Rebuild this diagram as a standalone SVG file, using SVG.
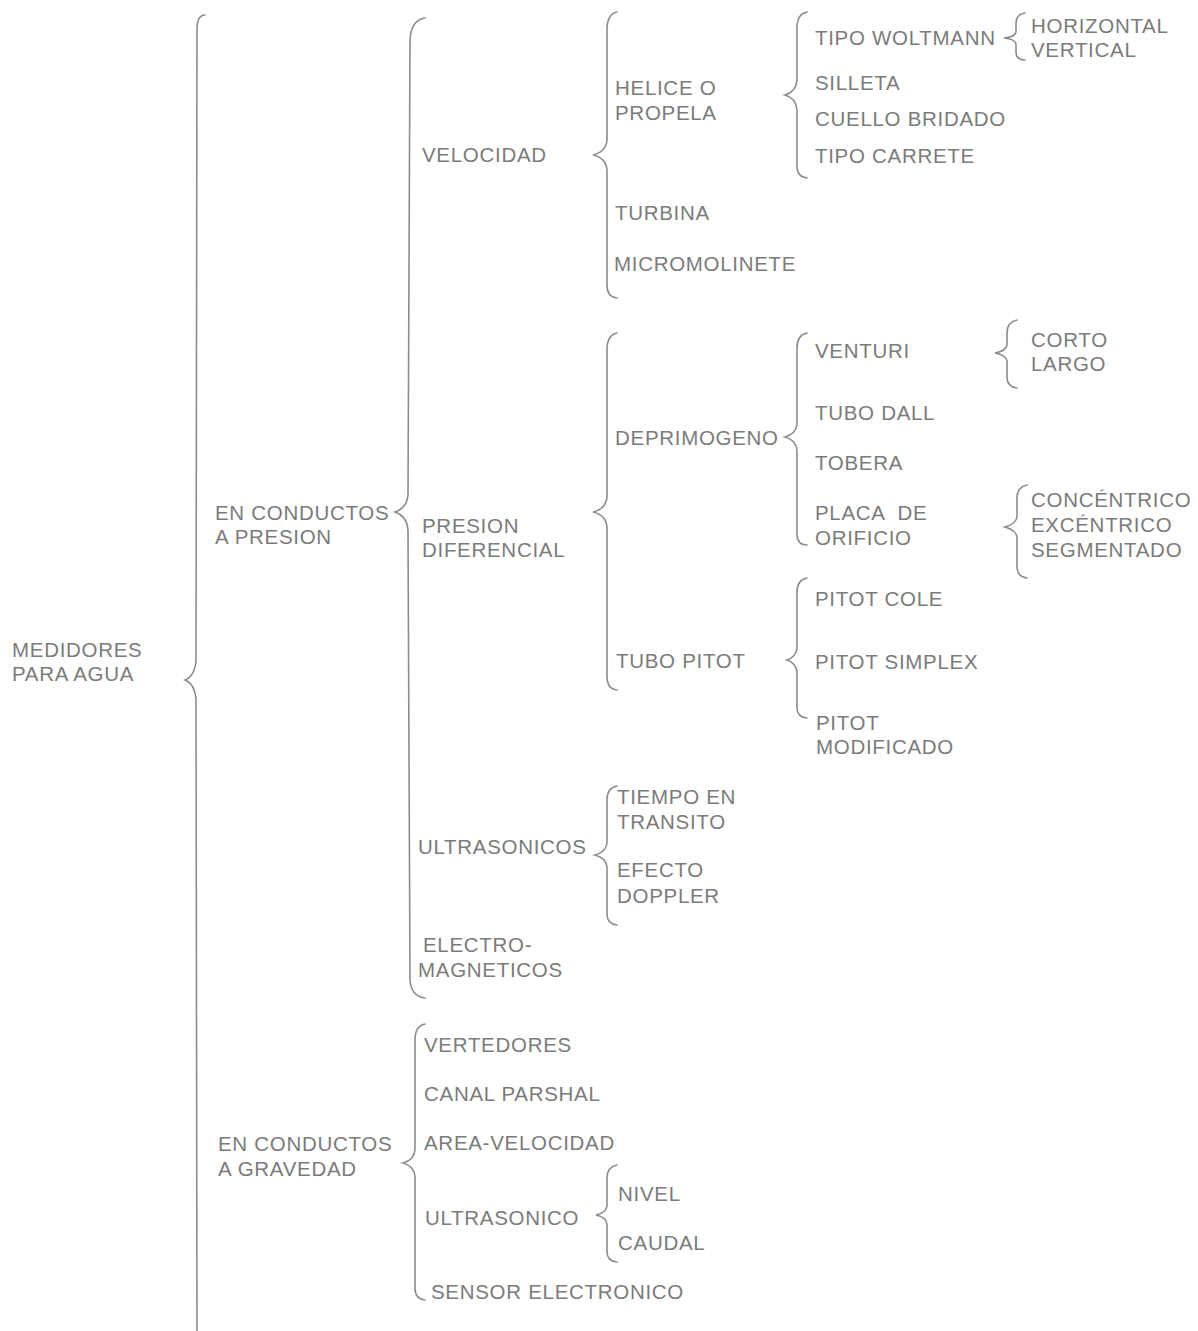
<svg xmlns="http://www.w3.org/2000/svg" width="1198" height="1331" viewBox="0 0 1198 1331">
<style>
text{font-family:"Liberation Sans",Arial,sans-serif;font-size:20.5px;fill:#7b7b7b;letter-spacing:0.7px}
.b{fill:none;stroke:#8c8c8c;stroke-width:1.6;stroke-linecap:round}
</style>
<rect width="1198" height="1331" fill="#fff"/>
<g id="connectors">
<path class="b" d="M205,15 Q197,15 197,30 L196,660 Q195,676 185,680 Q195,684 196,700 L197,1331"/>
<path class="b" d="M425,18 Q411,20 410,40 L408,495 Q407,508 395,512 Q407,516 408,530 L410,980 Q411,996 425,998"/>
<path class="b" d="M617,12 Q607,14 607,30 L607,140 Q606,152 593,155 Q606,158 607,170 L607,285 Q607,297 617,298"/>
<path class="b" d="M807,12 Q797,14 797,28 L797,80 Q796,92 785,95 Q796,98 797,110 L797,166 Q797,177 807,178"/>
<path class="b" d="M1025,13 Q1016,14 1016,24 L1016,32 Q1015,37 1004,38 Q1015,39 1016,44 L1016,52 Q1016,60 1025,60"/>
<path class="b" d="M617,333 Q607,335 607,350 L607,497 Q606,509 593,512 Q606,515 607,527 L607,676 Q607,689 617,690"/>
<path class="b" d="M807,333 Q797,335 797,348 L797,424 Q796,434 785,437 Q796,440 797,450 L797,534 Q797,545 807,545"/>
<path class="b" d="M1017,320 Q1007,322 1007,333 L1007,345 Q1006,351 995,353 Q1006,355 1007,361 L1007,377 Q1007,387 1017,388"/>
<path class="b" d="M1027,485 Q1017,487 1017,498 L1017,517 Q1016,524 1005,527 Q1016,530 1017,537 L1017,566 Q1017,577 1027,578"/>
<path class="b" d="M807,578 Q797,580 797,592 L797,648 Q796,657 787,660 Q796,663 797,672 L797,708 Q797,717 807,718"/>
<path class="b" d="M617,786 Q607,788 607,800 L607,843 Q606,852 595,855 Q606,858 607,867 L607,914 Q607,924 617,925"/>
<path class="b" d="M425,1024 Q415,1026 415,1040 L415,1150 Q414,1160 403,1163 Q414,1166 415,1176 L415,1288 Q415,1299 425,1300"/>
<path class="b" d="M617,1165 Q607,1167 607,1178 L607,1206 Q606,1213 596,1215 Q606,1217 607,1224 L607,1252 Q607,1261 617,1262"/>
</g>
<g id="medidores"><text x="12" y="657">MEDIDORES</text><text x="12" y="681">PARA AGUA</text></g>
<g id="presion"><text x="215" y="520">EN CONDUCTOS</text><text x="215" y="544">A PRESION</text></g>
<g id="gravedad"><text x="218" y="1151">EN CONDUCTOS</text><text x="218" y="1176">A GRAVEDAD</text></g>
<g id="velocidad"><text x="422" y="162">VELOCIDAD</text></g>
<g id="presion-dif"><text x="422" y="533">PRESION</text><text x="422" y="557">DIFERENCIAL</text></g>
<g id="ultrasonicos"><text x="418" y="854">ULTRASONICOS</text></g>
<g id="electro"><text x="423" y="952">ELECTRO-</text><text x="418" y="977">MAGNETICOS</text></g>
<g id="helice"><text x="615" y="95">HELICE O</text><text x="615" y="120">PROPELA</text></g>
<g id="turbina"><text x="615" y="220">TURBINA</text></g>
<g id="micromolinete"><text x="614" y="271">MICROMOLINETE</text></g>
<g id="woltmann"><text x="815" y="45">TIPO WOLTMANN</text></g>
<g id="horizontal"><text x="1031" y="33">HORIZONTAL</text></g>
<g id="vertical"><text x="1031" y="57">VERTICAL</text></g>
<g id="silleta"><text x="815" y="90">SILLETA</text></g>
<g id="cuello"><text x="815" y="126">CUELLO BRIDADO</text></g>
<g id="carrete"><text x="815" y="163">TIPO CARRETE</text></g>
<g id="deprimogeno"><text x="615" y="445">DEPRIMOGENO</text></g>
<g id="tubo-pitot"><text x="616" y="668">TUBO PITOT</text></g>
<g id="venturi"><text x="815" y="358">VENTURI</text></g>
<g id="corto"><text x="1031" y="347">CORTO</text></g>
<g id="largo"><text x="1031" y="371">LARGO</text></g>
<g id="tubo-dall"><text x="815" y="420">TUBO DALL</text></g>
<g id="tobera"><text x="815" y="470">TOBERA</text></g>
<g id="placa"><text x="815" y="520" xml:space="preserve">PLACA  DE</text><text x="815" y="545">ORIFICIO</text></g>
<g id="concentrico"><text x="1031" y="507">CONCÉNTRICO</text></g>
<g id="excentrico"><text x="1031" y="532">EXCÉNTRICO</text></g>
<g id="segmentado"><text x="1031" y="557">SEGMENTADO</text></g>
<g id="pitot-cole"><text x="815" y="606">PITOT COLE</text></g>
<g id="pitot-simplex"><text x="815" y="669">PITOT SIMPLEX</text></g>
<g id="pitot-mod"><text x="816" y="730">PITOT</text><text x="816" y="754">MODIFICADO</text></g>
<g id="tiempo"><text x="617" y="804">TIEMPO EN</text><text x="617" y="829">TRANSITO</text></g>
<g id="doppler"><text x="617" y="877">EFECTO</text><text x="617" y="903">DOPPLER</text></g>
<g id="vertedores"><text x="424" y="1052">VERTEDORES</text></g>
<g id="parshal"><text x="424" y="1101">CANAL PARSHAL</text></g>
<g id="area-vel"><text x="424" y="1150">AREA-VELOCIDAD</text></g>
<g id="ultrasonico"><text x="425" y="1225">ULTRASONICO</text></g>
<g id="nivel"><text x="618" y="1201">NIVEL</text></g>
<g id="caudal"><text x="618" y="1250">CAUDAL</text></g>
<g id="sensor"><text x="431" y="1299">SENSOR ELECTRONICO</text></g>
</svg>
